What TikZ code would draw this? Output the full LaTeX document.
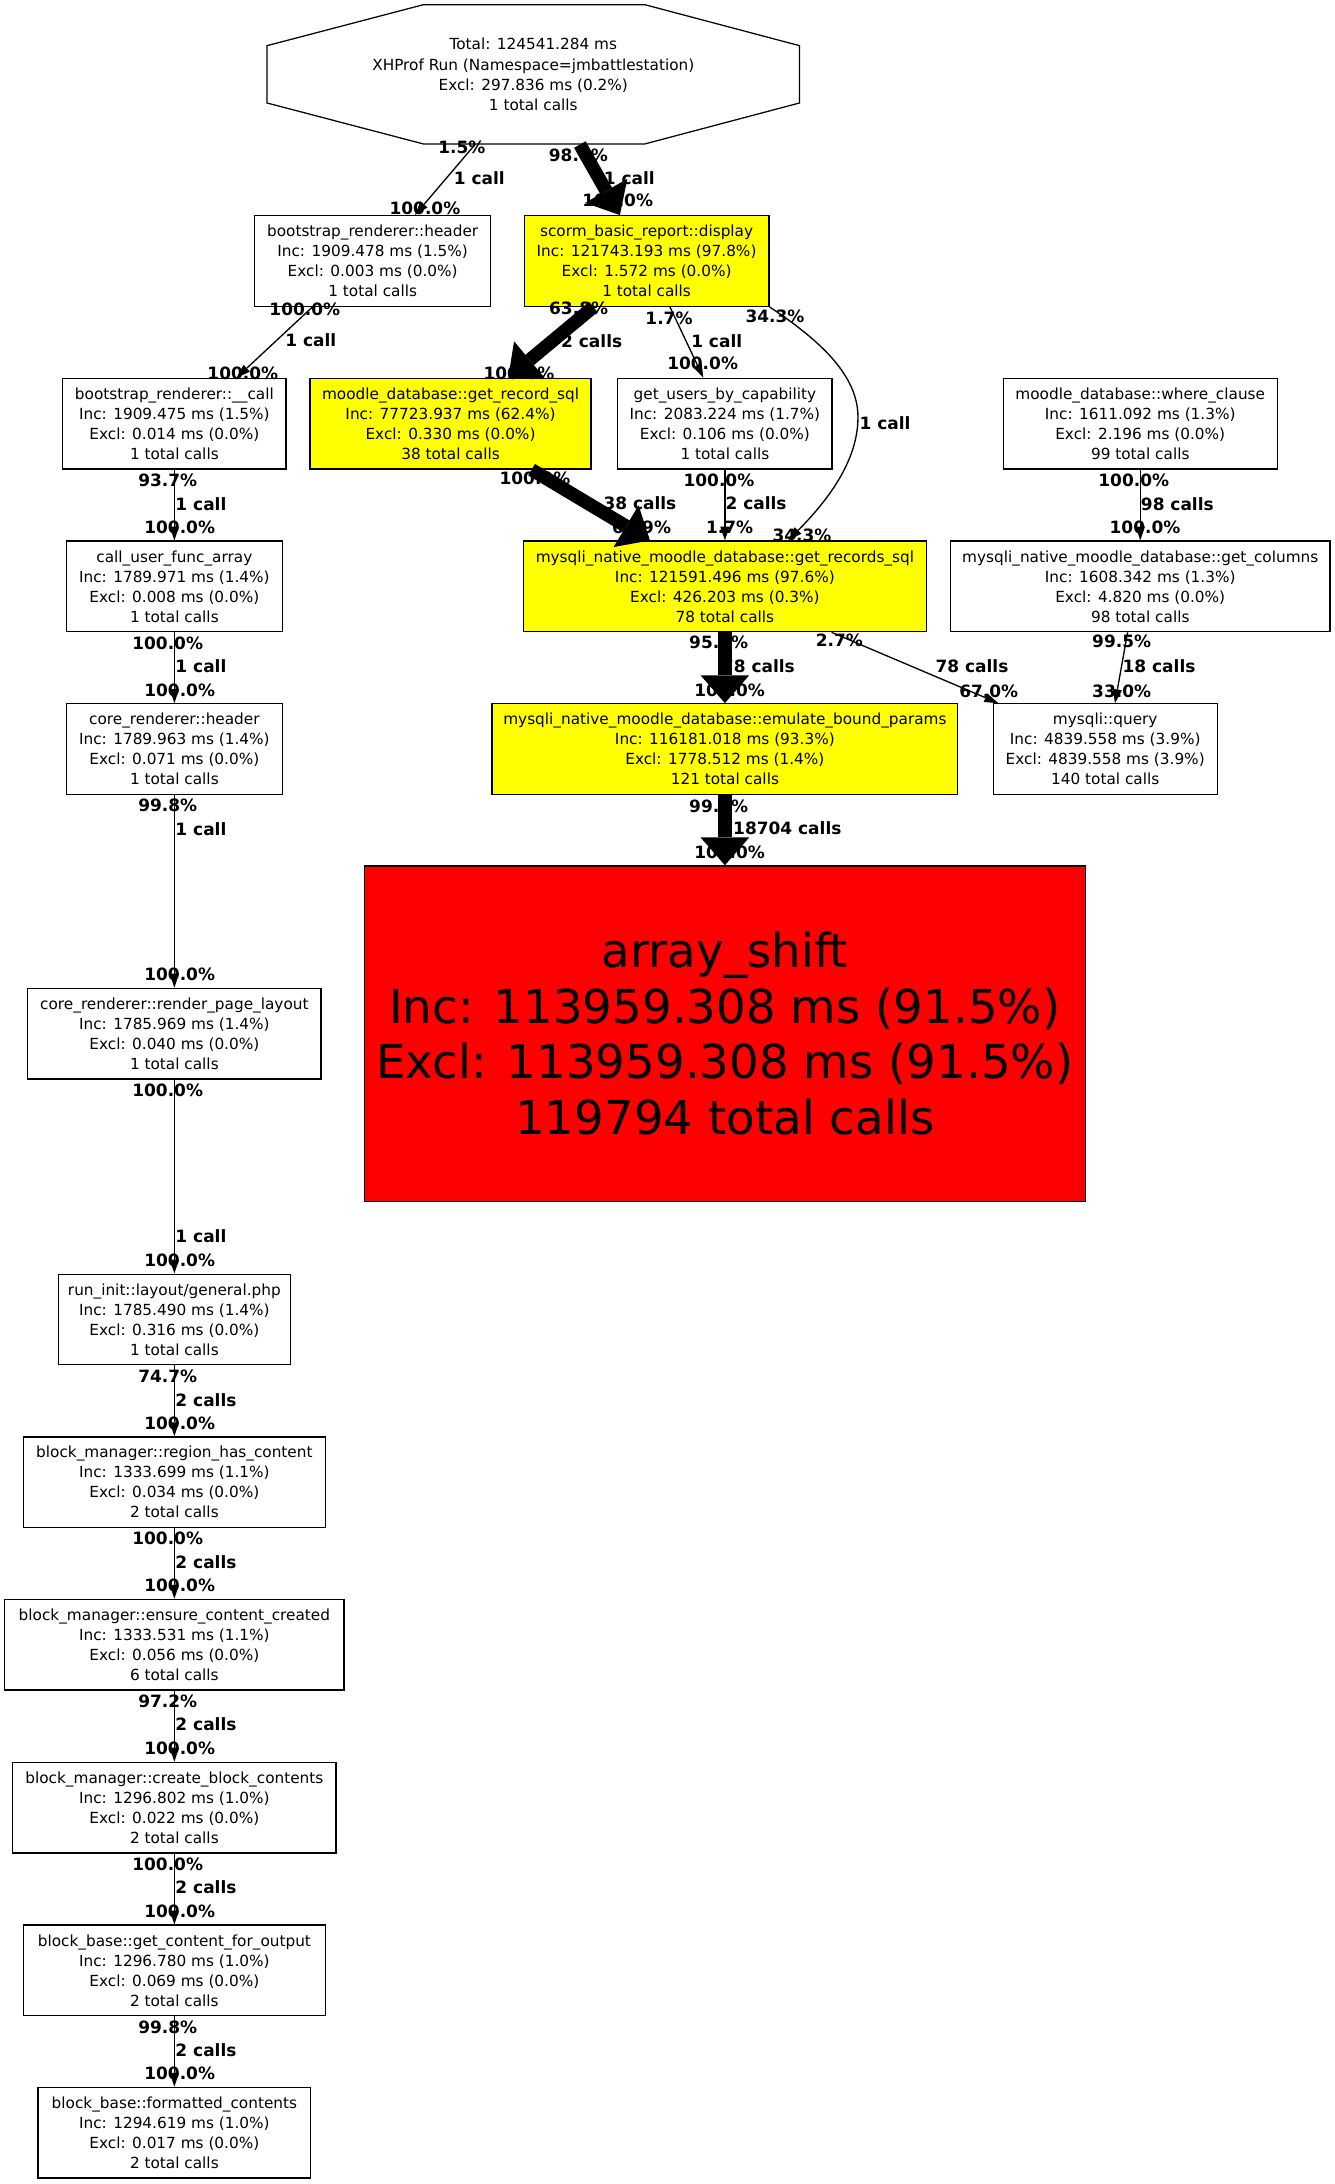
\documentclass[tikz,border=0pt]{standalone}
\usepackage{fontspec}
\setmainfont{DejaVu Sans}
\usetikzlibrary{arrows.meta}
\definecolor{gvyellow}{RGB}{255,255,0}
\definecolor{gvred}{RGB}{255,0,0}
\tikzset{
  fn/.style={draw=black, line width=0.9pt, align=center, inner sep=0pt, minimum height=65.2pt, font=\fontsize{11pt}{14.4pt}\selectfont},
  crit/.style={fn, fill=gvyellow},
  hot/.style={fn, fill=gvred, font=\fontsize{33.6pt}{40pt}\selectfont},
  elab/.style={inner sep=0pt, font=\bfseries\fontsize{12.2pt}{14pt}\selectfont},
  wel/.style={elab, anchor=west},
  thinedge/.style={draw=black, line width=0.95pt, -{Triangle[length=10pt,width=6.7pt,line width=0pt 0]}},
  thickedge/.style={draw=black, line width=9.6pt, -{Triangle[length=20pt,width=35pt,line width=0pt 0]}},
}
\begin{document}
\begin{tikzpicture}[x=1pt,y=-1pt]
\useasboundingbox (0,0) rectangle (960,1570.6);

% ---------- nodes ----------
\node[fn, draw=none, minimum width=383pt, minimum height=100.1pt] (top) at (383.5,53.45)
  {Total: 124541.284 ms\\XHProf Run (Namespace=jmbattlestation)\\Excl: 297.836 ms (0.2\%)\\1 total calls};
\draw[line width=0.9pt] (304.4,3.4) -- (463.8,3.4) -- (575,32.85) -- (575,74.05) -- (463.8,103.5) -- (304.4,103.5) -- (192,74.05) -- (192,32.85) -- cycle;

\node[fn, minimum width=170pt] (hdr) at (268,187.7) {bootstrap\_renderer::header\\Inc: 1909.478 ms (1.5\%)\\Excl: 0.003 ms (0.0\%)\\1 total calls};
\node[crit, minimum width=176pt] (scorm) at (465,187.7) {scorm\_basic\_report::display\\Inc: 121743.193 ms (97.8\%)\\Excl: 1.572 ms (0.0\%)\\1 total calls};
\node[fn, minimum width=160.7pt] (call) at (125.4,304.7) {bootstrap\_renderer::\_\_call\\Inc: 1909.475 ms (1.5\%)\\Excl: 0.014 ms (0.0\%)\\1 total calls};
\node[crit, minimum width=202pt] (grs) at (324,304.7) {moodle\_database::get\_record\_sql\\Inc: 77723.937 ms (62.4\%)\\Excl: 0.330 ms (0.0\%)\\38 total calls};
\node[fn, minimum width=154pt] (gubc) at (521.3,304.7) {get\_users\_by\_capability\\Inc: 2083.224 ms (1.7\%)\\Excl: 0.106 ms (0.0\%)\\1 total calls};
\node[fn, minimum width=197pt] (wc) at (820,304.7) {moodle\_database::where\_clause\\Inc: 1611.092 ms (1.3\%)\\Excl: 2.196 ms (0.0\%)\\99 total calls};
\node[fn, minimum width=155pt] (cufa) at (125.4,421.7) {call\_user\_func\_array\\Inc: 1789.971 ms (1.4\%)\\Excl: 0.008 ms (0.0\%)\\1 total calls};
\node[crit, minimum width=290pt] (grss) at (521.3,421.7) {mysqli\_native\_moodle\_database::get\_records\_sql\\Inc: 121591.496 ms (97.6\%)\\Excl: 426.203 ms (0.3\%)\\78 total calls};
\node[fn, minimum width=273pt] (gc) at (820,421.7) {mysqli\_native\_moodle\_database::get\_columns\\Inc: 1608.342 ms (1.3\%)\\Excl: 4.820 ms (0.0\%)\\98 total calls};
\node[fn, minimum width=155pt] (crh) at (125.4,538.7) {core\_renderer::header\\Inc: 1789.963 ms (1.4\%)\\Excl: 0.071 ms (0.0\%)\\1 total calls};
\node[crit, minimum width=335pt] (ebp) at (521.3,538.7) {mysqli\_native\_moodle\_database::emulate\_bound\_params\\Inc: 116181.018 ms (93.3\%)\\Excl: 1778.512 ms (1.4\%)\\121 total calls};
\node[fn, minimum width=161pt] (mq) at (794.8,538.7) {mysqli::query\\Inc: 4839.558 ms (3.9\%)\\Excl: 4839.558 ms (3.9\%)\\140 total calls};
\node[hot, minimum width=518.4pt, minimum height=241.3pt] (as) at (521.3,743.35) {array\_shift\\Inc: 113959.308 ms (91.5\%)\\Excl: 113959.308 ms (91.5\%)\\119794 total calls};
\node[fn, minimum width=211pt] (rpl) at (125.4,743.3) {core\_renderer::render\_page\_layout\\Inc: 1785.969 ms (1.4\%)\\Excl: 0.040 ms (0.0\%)\\1 total calls};
\node[fn, minimum width=167pt] (run) at (125.4,948.9) {run\_init::layout/general.php\\Inc: 1785.490 ms (1.4\%)\\Excl: 0.316 ms (0.0\%)\\1 total calls};
\node[fn, minimum width=217pt] (rhc) at (125.4,1065.9) {block\_manager::region\_has\_content\\Inc: 1333.699 ms (1.1\%)\\Excl: 0.034 ms (0.0\%)\\2 total calls};
\node[fn, minimum width=244pt] (ecc) at (125.4,1182.8) {block\_manager::ensure\_content\_created\\Inc: 1333.531 ms (1.1\%)\\Excl: 0.056 ms (0.0\%)\\6 total calls};
\node[fn, minimum width=232.5pt] (cbc) at (125.4,1299.9) {block\_manager::create\_block\_contents\\Inc: 1296.802 ms (1.0\%)\\Excl: 0.022 ms (0.0\%)\\2 total calls};
\node[fn, minimum width=217pt] (gcfo) at (125.4,1417) {block\_base::get\_content\_for\_output\\Inc: 1296.780 ms (1.0\%)\\Excl: 0.069 ms (0.0\%)\\2 total calls};
\node[fn, minimum width=196pt] (fc) at (125.4,1533.7) {block\_base::formatted\_contents\\Inc: 1294.619 ms (1.0\%)\\Excl: 0.017 ms (0.0\%)\\2 total calls};

% ---------- edge labels ----------
\node[elab] (e1t) at (332.2,106) {1.5\%};
\node[elab] (e1m) at (344.7,128.2) {1 call};
\node[elab] (e1h) at (305.6,149.8) {100.0\%};
\node[elab] (e2t) at (415.9,111.5) {98.0\%};
\node[elab] (e2m) at (452.6,128.2) {1 call};
\node[elab] (e2h) at (444.2,143.8) {100.0\%};
\node[elab] (e3t) at (219.2,222.2) {100.0\%};
\node[elab] (e3m) at (223.5,244.5) {1 call};
\node[elab] (e3h) at (174.6,268.5) {100.0\%};
\node[elab] (e4t) at (416.1,221.7) {63.8\%};
\node[elab] (e4m) at (425.5,245) {2 calls};
\node[elab] (e4h) at (373.2,268.5) {100.0\%};
\node[elab] (e5t) at (481.1,228.9) {1.7\%};
\node[elab] (e5m) at (515.4,245) {1 call};
\node[elab] (e5h) at (505.3,261.3) {100.0\%};
\node[elab] (e6t) at (557.3,227.2) {34.3\%};
\node[wel]  (e6m) at (618,304) {1 call};
\node[elab] (e6h) at (576.7,384.7) {34.3\%};
\node[elab] (e7t) at (517,345.2) {100.0\%};
\node[wel]  (e7m) at (521.6,362) {2 calls};
\node[elab] (e7h) at (524.7,379.2) {1.7\%};
\node[elab] (e8t) at (384.7,344) {100.0\%};
\node[elab] (e8m) at (460.2,362) {38 calls};
\node[elab] (e8h) at (461.4,379.2) {63.9\%};
\node[elab] (e9t) at (815.3,345.6) {100.0\%};
\node[wel]  (e9m) at (820.3,362.4) {98 calls};
\node[elab] (e9h) at (823.4,379.2) {100.0\%};
\node[elab] (e10t) at (516.8,462.1) {95.9\%};
\node[wel]  (e10m) at (519,479.4) {78 calls};
\node[elab] (e10h) at (524.7,496.7) {100.0\%};
\node[elab] (e11t) at (603.6,460.2) {2.7\%};
\node[elab] (e11m) at (699,479.4) {78 calls};
\node[elab] (e11h) at (711,497.4) {67.0\%};
\node[elab] (e12t) at (806.6,461.4) {99.5\%};
\node[elab] (e12m) at (833.5,479.4) {18 calls};
\node[elab] (e12h) at (806.6,497.4) {33.0\%};
\node[elab] (e13t) at (516.8,579.6) {99.6\%};
\node[wel]  (e13m) at (518.6,595.7) {118704 calls};
\node[elab] (e13h) at (524.7,613.2) {100.0\%};
% left column
\node[elab] (e14t) at (120.6,345.5) {93.7\%};
\node[wel]  (e14m) at (126,362.3) {1 call};
\node[elab] (e14h) at (129.2,379.2) {100.0\%};
\node[elab] (e15t) at (120.6,462.4) {100.0\%};
\node[wel]  (e15m) at (126,479.3) {1 call};
\node[elab] (e15h) at (129.2,496.3) {100.0\%};
\node[elab] (e16t) at (120.6,579.4) {99.8\%};
\node[wel]  (e16m) at (126,596) {1 call};
\node[elab] (e16h) at (129.2,700.9) {100.0\%};
\node[elab] (e17t) at (120.6,784.1) {100.0\%};
\node[wel]  (e17m) at (126,889.1) {1 call};
\node[elab] (e17h) at (129.2,906.6) {100.0\%};
\node[elab] (e18t) at (120.6,989.5) {74.7\%};
\node[wel]  (e18m) at (126,1006.7) {2 calls};
\node[elab] (e18h) at (129.2,1023.5) {100.0\%};
\node[elab] (e19t) at (120.6,1106.5) {100.0\%};
\node[wel]  (e19m) at (126,1123.4) {2 calls};
\node[elab] (e19h) at (129.2,1140.3) {100.0\%};
\node[elab] (e20t) at (120.6,1223.5) {97.2\%};
\node[wel]  (e20m) at (126,1240.2) {2 calls};
\node[elab] (e20h) at (129.2,1257.5) {100.0\%};
\node[elab] (e21t) at (120.6,1340.7) {100.0\%};
\node[wel]  (e21m) at (126,1357.4) {2 calls};
\node[elab] (e21h) at (129.2,1374.6) {100.0\%};
\node[elab] (e22t) at (120.6,1457.8) {99.8\%};
\node[wel]  (e22m) at (126,1474.5) {2 calls};
\node[elab] (e22h) at (129.2,1491.3) {100.0\%};

% ---------- edges ----------
\draw[thinedge] ([xshift=-41.9pt]top.south) -- ([xshift=30.4pt]hdr.north);
\draw[thickedge] ([xshift=33.5pt]top.south) -- ([xshift=-19.2pt]scorm.north);
\draw[thinedge] ([xshift=-43.3pt]hdr.south) -- ([xshift=44.7pt]call.north);
\draw[thickedge] ([xshift=-38.3pt]scorm.south) -- ([xshift=41.5pt]grs.north);
\draw[thinedge] ([xshift=16.8pt]scorm.south) -- ([xshift=-15.5pt]gubc.north);
\draw[thinedge] (scorm.south east) .. controls (590,245) and (617,270) .. (617,300) .. controls (617,335) and (590,365) .. ([xshift=45.6pt]grss.north);
\draw[thinedge] (gubc.south) -- (grss.north);
\draw[thickedge] ([xshift=58.3pt]grs.south) -- ([xshift=-53.9pt]grss.north);
\draw[thinedge] (wc.south) -- (gc.north);
\draw[thickedge] (grss.south) -- (ebp.north);
\draw[thinedge] ([xshift=76.7pt]grss.south) -- ([xshift=-76.9pt]mq.north);
\draw[thinedge] ([xshift=-9.1pt]gc.south) -- ([xshift=7pt]mq.north);
\draw[thickedge] (ebp.south) -- (as.north);
\draw[thinedge] (call.south) -- (cufa.north);
\draw[thinedge] (cufa.south) -- (crh.north);
\draw[thinedge] (crh.south) -- (rpl.north);
\draw[thinedge] (rpl.south) -- (run.north);
\draw[thinedge] (run.south) -- (rhc.north);
\draw[thinedge] (rhc.south) -- (ecc.north);
\draw[thinedge] (ecc.south) -- (cbc.north);
\draw[thinedge] (cbc.south) -- (gcfo.north);
\draw[thinedge] (gcfo.south) -- (fc.north);
\end{tikzpicture}
\end{document}
